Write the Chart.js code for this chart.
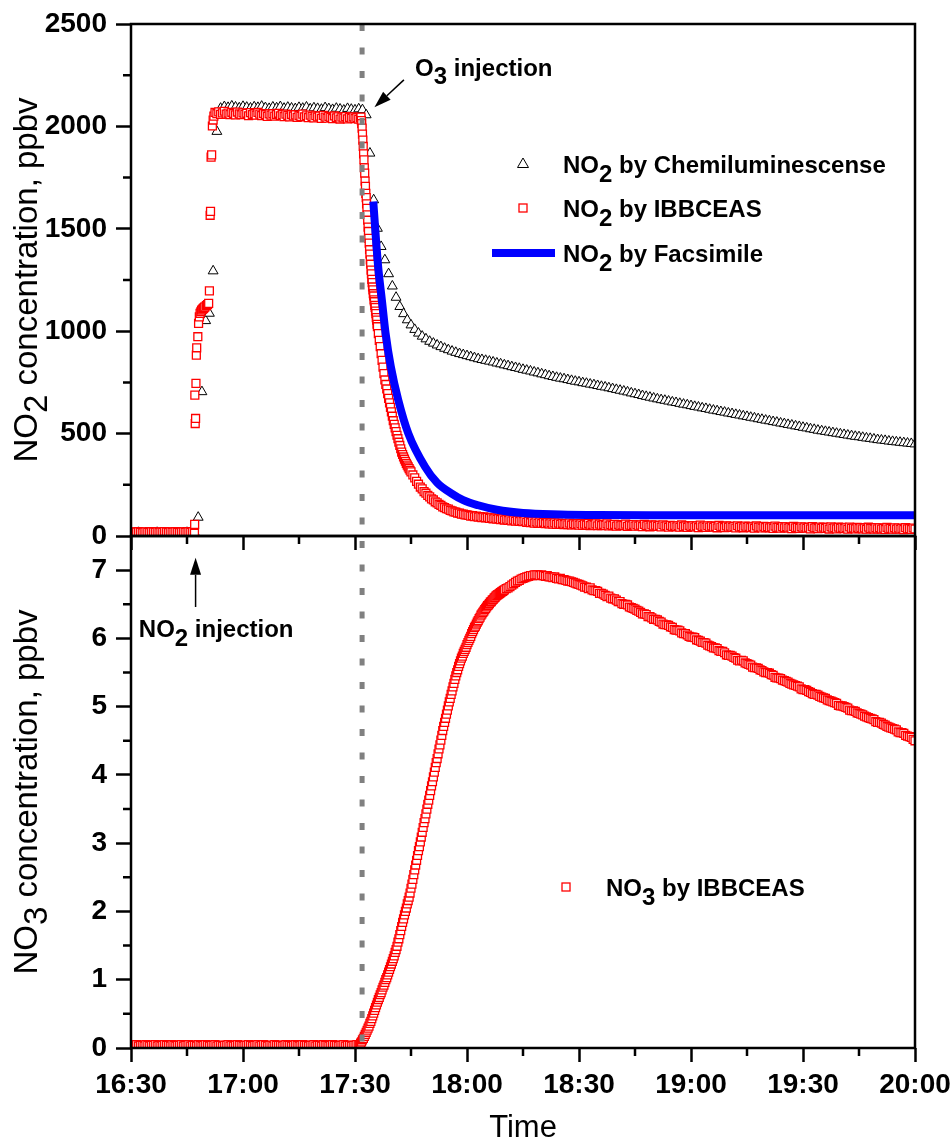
<!DOCTYPE html>
<html>
<head>
<meta charset="utf-8">
<script src="https://cdn.jsdelivr.net/npm/chart.js@4.4.1/dist/chart.umd.min.js"></script>
<style>
html,body{margin:0;padding:0;background:#fff;}
#wrap{position:relative;width:951px;height:1142px;overflow:hidden;}
#wrap canvas{position:absolute;left:0;top:0;}
</style>
</head>
<body>
<div id="wrap">
<canvas id="topChart" width="951" height="1142"></canvas>
<canvas id="bottomChart" width="951" height="1142"></canvas>
</div>
<script>
// ---------------- DATA (time = minutes after midnight) ----------------
const timeTickValues = [990, 1020, 1050, 1080, 1110, 1140, 1170, 1200];
const timeTickLabels = ['16:30', '17:00', '17:30', '18:00', '18:30', '19:00', '19:30', '20:00'];
const timeMinorTicks = [1005, 1035, 1065, 1095, 1125, 1155, 1185];

const no2TickValues = [0, 500, 1000, 1500, 2000, 2500];
const no2TickLabels = ['0', '500', '1000', '1500', '2000', '2500'];
const no2MinorTicks = [250, 750, 1250, 1750, 2250];

const no3TickValues = [0, 1, 2, 3, 4, 5, 6, 7];
const no3TickLabels = ['0', '1', '2', '3', '4', '5', '6', '7'];
const no3MinorTicks = [0.5, 1.5, 2.5, 3.5, 4.5, 5.5, 6.5];

const no2InjectionTime = 1007.3;
const o3InjectionTime = 1051.9;

// NO2 by chemiluminescence, one reading per minute from 16:30 (990) to 20:00 (1200)
const chemiStart = 990, chemiStep = 1;
const chemiNO2 = [
  16,15,17,15,16,14,15,17,16,15,
  16,15,14,16,15,17,15,16,91,704,
  1051,1087,1294,1975,2088,2096,2092,2099,2094,2090,
  2097,2093,2089,2095,2092,2098,2091,2087,2094,2090,
  2096,2088,2093,2089,2086,2092,2088,2094,2085,2090,
  2087,2083,2091,2086,2082,2088,2084,2079,2087,2083,
  2080,2085,2081,2056,1869,1641,1502,1413,1348,1280,
  1220,1165,1120,1085,1055,1030,1008,990,975,962,
  950,941,932,924,916,909,902,896,890,885,
  880,875,870,865,861,857,853,849,844,840,
  835,831,826,822,818,813,809,805,800,796,
  791,787,782,778,774,770,767,763,759,755,
  752,748,745,741,738,734,730,727,723,719,
  715,711,707,703,698,694,690,685,681,677,
  673,669,665,662,658,654,651,647,643,640,
  636,632,629,625,622,618,614,611,607,604,
  600,597,593,590,586,583,579,576,572,569,
  565,562,558,555,551,548,544,541,537,534,
  530,527,523,520,516,513,510,507,504,501,
  498,495,492,489,486,484,481,478,476,473,
  470,468,466,463,461,459,457,455,453,451,
  449
];

// NO2 by IBBCEAS (several sampling segments)
const ibbBaseStart = 990, ibbBaseStep = 0.5;
const ibbBaseNO2 = [18,20,17,19,21,18,16,19,20,18,17,21,19,18,20,17,19,18,22,19,17,20,18,19,21,18,17,19,20,18,19,21,18,20];

const ibbRiseTime = [1007.0,1007.05,1007.1,1007.2,1007.3,1007.4,1007.5,1007.6,1007.9,1008.1,1008.3,1008.5,1008.7,1008.9,1009.2,1009.4,1009.6,1009.8,1010.2,1010.5,1010.8,1011.0,1011.2,1011.3,1011.45,1011.6,1011.8,1012.0,1012.2];
const ibbRiseNO2 = [13,57,688,549,574,745,883,919,973,1038,1070,1087,1095,1103,1108,1111,1115,1119,1125,1130,1136,1197,1566,1585,1850,1861,2002,2031,2050];

const ibbPlateauStart = 1012.5, ibbPlateauStep = 0.5;
const ibbPlateauNO2 = [
  2068,2062,2071,2059,2066,2074,2060,2065,2058,2069,
  2063,2056,2070,2061,2057,2066,2059,2064,2052,2067,
  2058,2062,2055,2068,2060,2053,2063,2057,2049,2061,
  2055,2062,2050,2058,2064,2052,2057,2048,2060,2054,
  2046,2058,2051,2056,2044,2053,2049,2060,2047,2052,
  2043,2055,2048,2041,2052,2046,2050,2039,2054,2045,
  2040,2049,2044,2038,2051,2042,2047,2036,2045,2041,
  2048,2037,2044,2040,2046,2038,2043,2035,2041
];

const ibbDropStart = 1051.6, ibbDropStep = 0.1;
const ibbDropNO2 = [
  2045,2028,2014,1992,1962,1933,1902,1866,1837,1798,
  1772,1733,1707,1673,1652,1622,1600,1568,1542,1508,
  1487,1453,1430,1398,1377,1348,1327,1298,1280,1253,
  1237,1216,1202,1183,1172,1153,1144,1126,1116,1098,
  1086,1066,1054,1034,1022
];

const ibbDecayStart = 1056.25, ibbDecayStep = 0.25;
const ibbDecayNO2 = [988,955,925,890,858,825,793,762,740,718,695,672,650,628,606,585,563,545,528,510,492,475,458,442,426,410,398,386,375,365,355,346,337,329,321,313];

const ibbSlowStart = 1065.5, ibbSlowStep = 0.5;
const ibbSlowNO2 = [298,284,267,253,239,230,217,209,198,191,181,176,167,162,154,150,142,139,133,131,125,123,118,117,112,112,107,107,103,103];

const ibbTailStart = 1080.5, ibbTailStep = 0.5;
const ibbTailNO2 = [
  101,97,99,94,97,92,95,90,93,89,
  91,86,89,84,87,82,85,80,84,78,
  82,76,80,74,78,72,77,71,75,70,
  74,67,72,65,70,63,69,62,68,61,
  67,60,66,59,65,58,64,57,63,57,
  62,56,61,55,63,54,60,55,59,53,
  60,52,58,54,61,51,57,53,59,50,
  58,51,56,52,59,49,55,51,57,48,
  56,50,54,51,58,47,53,50,56,48,
  55,49,53,46,57,50,52,45,54,49,
  53,47,51,44,55,48,50,43,52,47,
  51,45,50,43,54,46,49,42,51,46,
  50,44,49,41,53,45,48,42,50,44,
  49,43,47,40,52,44,47,41,49,43,
  48,42,46,39,50,43,46,40,48,42,
  47,41,45,38,49,42,44,39,47,41,
  46,40,44,37,48,41,43,38,46,40,
  45,39,43,36,47,40,42,37,45,39,
  44,38,42,35,46,39,41,36,44,38,
  43,37,41,34,45,38,40,35,43,37,
  42,36,40,33,44,37,39,35,42,36,
  41,35,39,33,43,36,38,34,41,35,
  40,34,38,32,42,35,37,33,40,34,
  39,33,37,31,41,35,36,32,39,34
];

// NO2 by Facsimile model
const facsTime = [1054.9,1055.5,1056.2,1057.2,1058.2,1059.6,1061.6,1064.3,1068.8,1072,1075.9,1079,1083,1088,1095,1105,1115,1130,1150,1175,1200];
const facsNO2 = [1633,1478,1315,1152,989,826,663,500,337,260,207,175,150,128,112,105,102,101,101,101,101];

// NO3 by IBBCEAS
const no3BaseStart = 990, no3BaseStep = 0.5;
const no3Base = [
  0.04,0.03,0.04,0.05,0.03,0.04,0.04,0.03,0.05,0.04,
  0.03,0.04,0.04,0.05,0.03,0.04,0.03,0.04,0.05,0.04,
  0.04,0.03,0.05,0.04,0.03,0.04,0.04,0.05,0.03,0.04,
  0.04,0.05,0.03,0.04,0.04,0.03,0.05,0.04,0.03,0.04,
  0.05,0.04,0.03,0.04,0.04,0.05,0.03,0.04,0.04,0.03,
  0.04,0.04,0.05,0.03,0.04,0.03,0.04,0.05,0.04,0.04,
  0.03,0.04,0.04,0.05,0.04,0.03,0.04,0.04,0.05,0.03,
  0.04,0.05,0.04,0.03,0.04,0.04,0.03,0.05,0.04,0.04,
  0.04,0.03,0.04,0.05,0.04,0.04,0.03,0.04,0.05,0.04,
  0.03,0.04,0.05,0.04,0.04,0.03,0.04,0.04,0.05,0.03,
  0.04,0.04,0.03,0.05,0.04,0.04,0.03,0.04,0.05,0.04,
  0.04,0.03,0.04,0.04,0.05,0.03,0.04,0.04,0.03,0.04,
  0.04,0.05,0.04
];
const no3RiseStart = 1051.25, no3RiseStep = 0.25;
const no3Rise = [
  0.05,0.07,0.09,0.12,0.14,0.17,0.20,0.23,
  0.26,0.29,0.32,0.36,0.39,0.43,0.47,0.51,
  0.55,0.59,0.63,0.67,0.71,0.74,0.78,0.81,
  0.85,0.89,0.92,0.96,1.00,1.03,1.07,1.11,
  1.15,1.19,1.23,1.27,1.31,1.35,1.40,1.44,
  1.49,1.55,1.60,1.66,1.72,1.78,1.84,1.89,
  1.95,2.00,2.05,2.11,2.16,2.21,2.27,2.34,
  2.40,2.47,2.54,2.61,2.68,2.75,2.82,2.89,
  2.95,3.02,3.09,3.16,3.23,3.30,3.36,3.43,
  3.50,3.57,3.63,3.70,3.77,3.84,3.90,3.97,
  4.04,4.11,4.18,4.24,4.31,4.38,4.44,4.51,
  4.58,4.65,4.71,4.77,4.83,4.89,4.95,5.01,
  5.07,5.12,5.18,5.23,5.29,5.34,5.40,5.45,
  5.50,5.54,5.59,5.63,5.67,5.71,5.74,5.78,
  5.81,5.84,5.87,5.91,5.94,5.97,6.00,6.03,
  6.07,6.10,6.13,6.16,6.18,6.21,6.24,6.26,
  6.29,6.31,6.34,6.36,6.38,6.40,6.42,6.44,
  6.46,6.48,6.49,6.51,6.53,6.54,6.56,6.57,
  6.59,6.60,6.62,6.63,6.64,6.65,6.66,6.67,
  6.68,6.69,6.70,6.71
];
const no3PeakStart = 1090.5, no3PeakStep = 0.5;
const no3Peak = [
  6.73,6.74,6.76,6.78,6.80,6.82,6.84,6.85,6.87,6.88,
  6.89,6.90,6.91,6.92,6.92,6.93,6.93,6.93,6.92,6.93,
  6.92,6.91,6.92,6.90,6.90,6.89,6.90,6.88,6.87,6.88,
  6.86,6.86,6.85,6.84,6.84,6.83,6.82,6.81,6.80,6.79
];
const no3TailStart = 1110.5, no3TailStep = 0.5;
const no3Tail = [
  6.78,6.77,6.75,6.75,6.73,6.74,6.71,6.70,6.70,6.69,
  6.66,6.66,6.65,6.63,6.61,6.62,6.59,6.58,6.58,6.56,
  6.54,6.54,6.51,6.50,6.50,6.49,6.46,6.45,6.44,6.43,
  6.41,6.40,6.38,6.36,6.36,6.35,6.32,6.32,6.30,6.28,
  6.28,6.27,6.25,6.24,6.21,6.20,6.20,6.19,6.17,6.16,
  6.13,6.12,6.12,6.11,6.08,6.07,6.07,6.05,6.03,6.02,
  6.02,6.01,5.98,5.97,5.96,5.94,5.94,5.93,5.90,5.89,
  5.88,5.86,5.86,5.85,5.82,5.81,5.81,5.79,5.76,5.75,
  5.75,5.74,5.72,5.71,5.68,5.67,5.68,5.67,5.64,5.63,
  5.62,5.61,5.58,5.57,5.57,5.56,5.54,5.53,5.51,5.50,
  5.50,5.49,5.47,5.46,5.43,5.42,5.42,5.41,5.39,5.38,
  5.37,5.36,5.34,5.33,5.32,5.31,5.30,5.29,5.26,5.25,
  5.25,5.24,5.22,5.21,5.19,5.18,5.18,5.17,5.15,5.14,
  5.13,5.12,5.10,5.09,5.08,5.07,5.06,5.05,5.02,5.01,
  5.01,5.00,4.99,4.98,4.95,4.94,4.94,4.93,4.91,4.90,
  4.89,4.88,4.86,4.85,4.84,4.83,4.82,4.81,4.78,4.77,
  4.77,4.76,4.74,4.73,4.71,4.70,4.69,4.68,4.67,4.66,
  4.63,4.62,4.62,4.61,4.58,4.57,4.56,4.55,4.52,4.50
];

// Text labels (parts: [text, isSubscript])
const legendChemi = [['NO', 0], ['2', 1], [' by Chemiluminescense', 0]];
const legendIbb = [['NO', 0], ['2', 1], [' by IBBCEAS', 0]];
const legendFacs = [['NO', 0], ['2', 1], [' by Facsimile', 0]];
const legendNo3 = [['NO', 0], ['3', 1], [' by IBBCEAS', 0]];
const labelO3 = [['O', 0], ['3', 1], [' injection', 0]];
const labelNo2Inj = [['NO', 0], ['2', 1], [' injection', 0]];
const titleNo2 = [['NO', 0], ['2', 1], [' concentration, ppbv', 0]];
const titleNo3 = [['NO', 0], ['3', 1], [' concentration, ppbv', 0]];
const titleTime = 'Time';

// ---------------- helpers ----------------
const FONT = '"Liberation Sans", Arial, Helvetica, sans-serif';
function seq(start, step, n) { return Array.from({ length: n }, (_, i) => +(start + i * step).toFixed(4)); }
function pts(times, values) { return values.map((v, i) => ({ x: times[i], y: v })); }

const chemiData = pts(seq(chemiStart, chemiStep, chemiNO2.length), chemiNO2);
const ibbData = [].concat(
  pts(seq(ibbBaseStart, ibbBaseStep, ibbBaseNO2.length), ibbBaseNO2),
  pts(ibbRiseTime, ibbRiseNO2),
  pts(seq(ibbPlateauStart, ibbPlateauStep, ibbPlateauNO2.length), ibbPlateauNO2),
  pts(seq(ibbDropStart, ibbDropStep, ibbDropNO2.length), ibbDropNO2),
  pts(seq(ibbDecayStart, ibbDecayStep, ibbDecayNO2.length), ibbDecayNO2),
  pts(seq(ibbSlowStart, ibbSlowStep, ibbSlowNO2.length), ibbSlowNO2),
  pts(seq(ibbTailStart, ibbTailStep, ibbTailNO2.length), ibbTailNO2)
);
const facsData = pts(facsTime, facsNO2);
const no3Data = [].concat(
  pts(seq(no3BaseStart, no3BaseStep, no3Base.length), no3Base),
  pts(seq(no3RiseStart, no3RiseStep, no3Rise.length), no3Rise),
  pts(seq(no3PeakStart, no3PeakStep, no3Peak.length), no3Peak),
  pts(seq(no3TailStart, no3TailStep, no3Tail.length), no3Tail)
);

function drawRich(ctx, parts, x, y, size, bold, subDy) {
  let cx = x;
  ctx.font = (bold ? 'bold ' : '') + size + 'px ' + FONT;
  ctx.textBaseline = 'alphabetic';
  ctx.textAlign = 'left';
  for (const [t, sub] of parts) {
    ctx.fillText(t, cx, y + (sub ? subDy : 0));
    cx += ctx.measureText(t).width;
  }
  return cx - x;
}
function richWidth(ctx, parts, size, bold) {
  ctx.font = (bold ? 'bold ' : '') + size + 'px ' + FONT;
  return parts.reduce((s, p) => s + ctx.measureText(p[0]).width, 0);
}
function arrow(ctx, x1, y1, x2, y2) {
  const a = Math.atan2(y2 - y1, x2 - x1), L = 17, W = 5.5;
  const bx = x2 - L * Math.cos(a), by = y2 - L * Math.sin(a);
  ctx.save();
  ctx.strokeStyle = '#000'; ctx.fillStyle = '#000'; ctx.lineWidth = 1.5;
  ctx.beginPath(); ctx.moveTo(x1, y1); ctx.lineTo(bx, by); ctx.stroke();
  ctx.beginPath();
  ctx.moveTo(x2, y2);
  ctx.lineTo(bx + W * Math.sin(a), by - W * Math.cos(a));
  ctx.lineTo(bx - W * Math.sin(a), by + W * Math.cos(a));
  ctx.closePath(); ctx.fill();
  ctx.restore();
}
function frameAndMinor(chart, xMinor, yMinor) {
  const { ctx, chartArea: ca, scales } = chart;
  ctx.save();
  ctx.strokeStyle = '#000'; ctx.lineWidth = 2.5;
  ctx.strokeRect(ca.left, ca.top, ca.right - ca.left, ca.bottom - ca.top);
  ctx.beginPath();
  xMinor.forEach(v => { const p = scales.x.getPixelForValue(v); ctx.moveTo(p, ca.bottom); ctx.lineTo(p, ca.bottom + 8); });
  yMinor.forEach(v => { const p = scales.y.getPixelForValue(v); ctx.moveTo(ca.left, p); ctx.lineTo(ca.left - 8, p); });
  ctx.stroke();
  ctx.restore();
}
function injectionLine(chart, offset) {
  const { ctx, chartArea: ca, scales } = chart;
  const px = scales.x.getPixelForValue(o3InjectionTime);
  ctx.save();
  ctx.strokeStyle = '#808080'; ctx.lineWidth = 5;
  ctx.setLineDash([7, 16.5]); ctx.lineDashOffset = offset;
  ctx.beginPath(); ctx.moveTo(px, ca.top); ctx.lineTo(px, ca.bottom); ctx.stroke();
  ctx.restore();
}
function yTitle(chart, parts) {
  const { ctx, chartArea: ca } = chart;
  const w = richWidth(ctx, parts, 33, false);
  const cy = (ca.top + ca.bottom) / 2;
  ctx.save();
  ctx.fillStyle = '#000';
  ctx.translate(37, cy + w / 2);
  ctx.rotate(-Math.PI / 2);
  drawRich(ctx, parts, 0, 0, 33, false, 10);
  ctx.restore();
}

Chart.defaults.font.family = FONT;
Chart.defaults.color = '#000';

function xScale(showLabels, height) {
  return {
    type: 'linear', min: 990, max: 1200,
    afterBuildTicks: s => { s.ticks = timeTickValues.map(v => ({ value: v })); },
    afterFit: s => { s.height = height; s.paddingLeft = 0; s.paddingRight = 0; },
    ticks: {
      display: showLabels, autoSkip: false, maxRotation: 0, padding: 6,
      font: { size: 28, weight: 'bold' }, color: '#000',
      callback: v => timeTickLabels[timeTickValues.indexOf(v)]
    },
    grid: { drawOnChartArea: false, drawTicks: true, tickLength: 14, tickColor: '#000', tickWidth: 2.5, color: '#000' },
    border: { display: false }
  };
}
function yScale(min, max, values, labels) {
  return {
    type: 'linear', min: min, max: max,
    afterBuildTicks: s => { s.ticks = values.map(v => ({ value: v })); },
    afterFit: s => { s.width = 131; s.paddingTop = 0; s.paddingBottom = 0; },
    ticks: {
      padding: 9, font: { size: 28, weight: 'bold' }, color: '#000',
      callback: v => labels[values.indexOf(v)]
    },
    grid: { drawOnChartArea: false, drawTicks: true, tickLength: 15, tickColor: '#000', tickWidth: 2.5, color: '#000' },
    border: { display: false }
  };
}

// ---------------- TOP PANEL ----------------
const topPlugin = {
  id: 'topDecor',
  afterDatasetsDraw(chart) { injectionLine(chart, 0); },
  afterDraw(chart) {
    const { ctx, scales } = chart;
    frameAndMinor(chart, timeMinorTicks, no2MinorTicks);
    yTitle(chart, titleNo2);
    ctx.save();
    // legend
    ctx.strokeStyle = '#000'; ctx.lineWidth = 1; ctx.fillStyle = '#fff';
    ctx.beginPath(); ctx.moveTo(523, 158); ctx.lineTo(528.5, 167.5); ctx.lineTo(517.5, 167.5); ctx.closePath(); ctx.fill(); ctx.stroke();
    ctx.strokeStyle = '#ff0000'; ctx.lineWidth = 1.3;
    ctx.strokeRect(519, 204, 8, 8);
    ctx.strokeStyle = '#0000ff'; ctx.lineWidth = 8;
    ctx.beginPath(); ctx.moveTo(492, 253); ctx.lineTo(555, 253); ctx.stroke();
    ctx.fillStyle = '#000';
    drawRich(ctx, legendChemi, 563, 172.5, 24, true, 9);
    drawRich(ctx, legendIbb, 563, 217, 24, true, 9);
    drawRich(ctx, legendFacs, 563, 261.5, 24, true, 9);
    // O3 injection annotation
    const x = scales.x, y = scales.y;
    drawRich(ctx, labelO3, x.getPixelForValue(1066.1), y.getPixelForValue(2246), 24, true, 8);
    arrow(ctx, x.getPixelForValue(1063.1), y.getPixelForValue(2227), x.getPixelForValue(1055.2), y.getPixelForValue(2093));
    ctx.restore();
  }
};

const topChart = new Chart(document.getElementById('topChart'), {
  type: 'scatter',
  data: {
    datasets: [
      { label: 'NO2 by Facsimile', data: facsData, showLine: true, borderColor: '#0000ff', borderWidth: 8,
        pointRadius: 0, cubicInterpolationMode: 'monotone', borderCapStyle: 'butt', order: 0 },
      { label: 'NO2 by IBBCEAS', data: ibbData, pointStyle: 'rect', pointRadius: 5.6,
        pointBorderColor: '#ff0000', pointBackgroundColor: '#ffffff', pointBorderWidth: 1.3, order: 1 },
      { label: 'NO2 by Chemiluminescense', data: chemiData, pointStyle: 'triangle', pointRadius: 5.7,
        pointBorderColor: '#000000', pointBackgroundColor: '#ffffff', pointBorderWidth: 1, order: 2 }
    ]
  },
  options: {
    responsive: false, animation: false, events: [],
    layout: { padding: { top: 24, right: 36, bottom: 582, left: 0 } },
    plugins: { legend: { display: false }, tooltip: { enabled: false } },
    scales: { x: xScale(false, 24), y: yScale(0, 2500, no2TickValues, no2TickLabels) }
  },
  plugins: [topPlugin]
});

// ---------------- BOTTOM PANEL ----------------
const bottomPlugin = {
  id: 'bottomDecor',
  afterDatasetsDraw(chart) { injectionLine(chart, chart.chartArea.top - topChart.chartArea.top); },
  afterDraw(chart) {
    const { ctx, scales, chartArea: ca } = chart;
    frameAndMinor(chart, timeMinorTicks, no3MinorTicks);
    yTitle(chart, titleNo3);
    ctx.save();
    ctx.fillStyle = '#000';
    ctx.font = '31px ' + FONT; ctx.textAlign = 'center'; ctx.textBaseline = 'alphabetic';
    ctx.fillText(titleTime, (ca.left + ca.right) / 2, 1137);
    // legend
    ctx.strokeStyle = '#ff0000'; ctx.lineWidth = 1.3;
    ctx.strokeRect(562, 883, 8, 8);
    drawRich(ctx, legendNo3, 606, 896, 24, true, 9);
    // NO2 injection annotation
    const x = scales.x, y = scales.y;
    const ax = x.getPixelForValue(no2InjectionTime);
    arrow(ctx, ax, y.getPixelForValue(6.46), ax, y.getPixelForValue(7.18));
    drawRich(ctx, labelNo2Inj, x.getPixelForValue(992.1), y.getPixelForValue(6.02), 24, true, 9);
    ctx.restore();
  }
};

new Chart(document.getElementById('bottomChart'), {
  type: 'scatter',
  data: {
    datasets: [
      { label: 'NO3 by IBBCEAS', data: no3Data, pointStyle: 'rect', pointRadius: 5.6,
        pointBorderColor: '#ff0000', pointBackgroundColor: '#ffffff', pointBorderWidth: 1.3 }
    ]
  },
  options: {
    responsive: false, animation: false, events: [],
    layout: { padding: { top: 536, right: 36, bottom: 0, left: 0 } },
    plugins: { legend: { display: false }, tooltip: { enabled: false } },
    scales: { x: xScale(true, 94), y: yScale(0, 7.5, no3TickValues, no3TickLabels) }
  },
  plugins: [bottomPlugin]
});
</script>
</body>
</html>
